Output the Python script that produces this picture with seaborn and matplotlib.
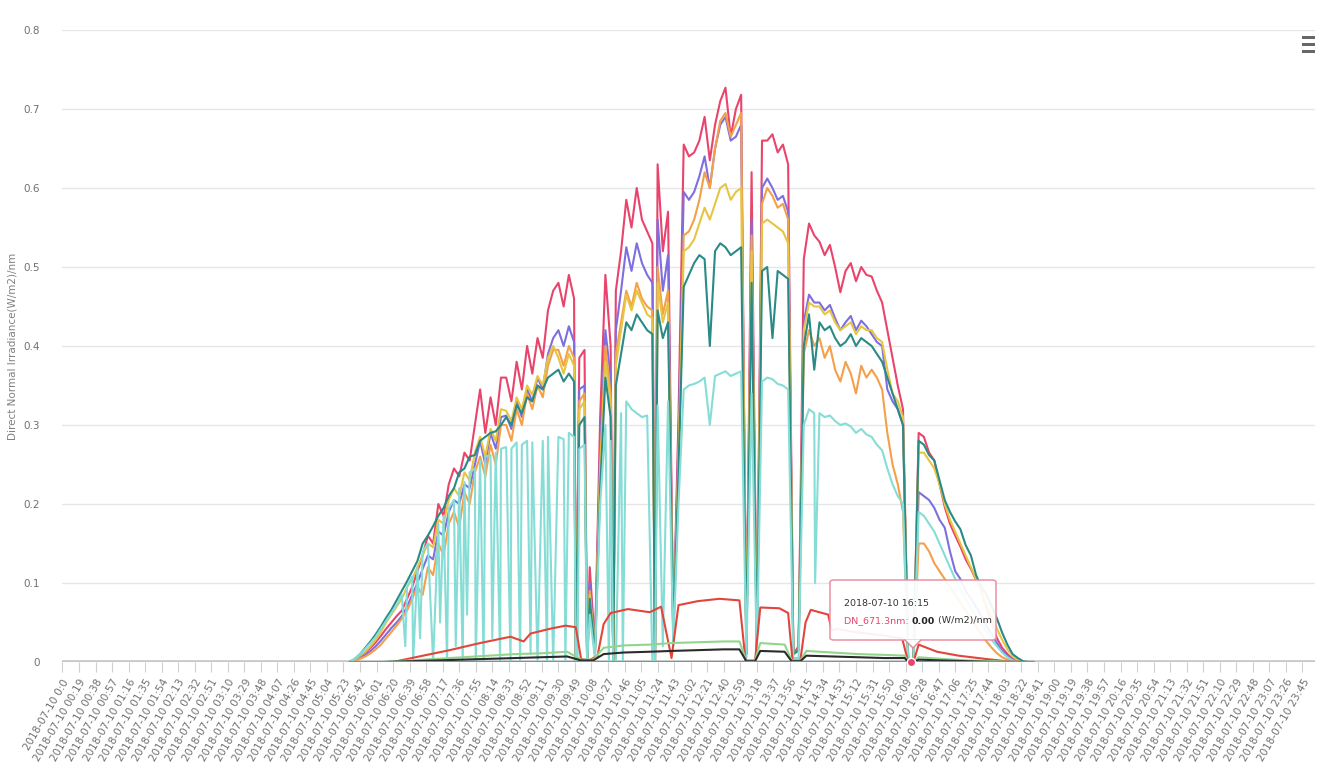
import numpy as np
import pandas as pd
import matplotlib
matplotlib.use("Agg")
import matplotlib.pyplot as plt
from matplotlib.patches import FancyBboxPatch, Polygon, Rectangle
from matplotlib.lines import Line2D
import seaborn as sns

W, H = 1338, 776

day = "2018-07-10"

# category labels shown on the x axis (one every 19 one-minute categories)
tick_times = [
    "0:0", "00:19", "00:38", "00:57", "01:16", "01:35", "01:54", "02:13", "02:32", "02:51",
    "03:10", "03:29", "03:48", "04:07", "04:26", "04:45", "05:04", "05:23", "05:42", "06:01",
    "06:20", "06:39", "06:58", "07:17", "07:36", "07:55", "08:14", "08:33", "08:52", "09:11",
    "09:30", "09:49", "10:08", "10:27", "10:46", "11:05", "11:24", "11:43", "12:02", "12:21",
    "12:40", "12:59", "13:18", "13:37", "13:56", "14:15", "14:34", "14:53", "15:12", "15:31",
    "15:50", "16:09", "16:28", "16:47", "17:06", "17:25", "17:44", "18:03", "18:22", "18:41",
    "19:00", "19:19", "19:38", "19:57", "20:16", "20:35", "20:54", "21:13", "21:32", "21:51",
    "22:10", "22:29", "22:48", "23:07", "23:26", "23:45",
]
y_ticks = [0.0, 0.1, 0.2, 0.3, 0.4, 0.5, 0.6, 0.7, 0.8]
y_tick_labels = ["0", "0.1", "0.2", "0.3", "0.4", "0.5", "0.6", "0.7", "0.8"]
y_title = "Direct Normal Irradiance(W/m2)/nm"

# daylight samples: first sample at 05:30, one sample every 6 minutes
grid_start = "05:30"
grid_step_min = 6

crimson_vals = [
    0.000, 0.003, 0.007, 0.012, 0.018, 0.025, 0.033, 0.042, 0.050, 0.058,
    0.065, 0.080, 0.095, 0.115, 0.135, 0.160, 0.150, 0.200, 0.185, 0.225,
    0.245, 0.235, 0.265, 0.255, 0.300, 0.345, 0.290, 0.335, 0.300, 0.360,
    0.360, 0.330, 0.380, 0.345, 0.400, 0.365, 0.410, 0.385, 0.445, 0.470,
    0.480, 0.450, 0.490, 0.460, 0.385, 0.395, 0.120, 0.020, 0.310, 0.490,
    0.400, 0.470, 0.520, 0.585, 0.550, 0.600, 0.560, 0.545, 0.530, 0.630,
    0.520, 0.570, 0.040, 0.310, 0.655, 0.640, 0.645, 0.660, 0.690, 0.635,
    0.680, 0.710, 0.727, 0.665, 0.700, 0.718, 0.010, 0.620, 0.020, 0.660,
    0.660, 0.668, 0.645, 0.655, 0.630, 0.010, 0.020, 0.510, 0.555, 0.540,
    0.532, 0.515, 0.528, 0.500, 0.468, 0.495, 0.505, 0.482, 0.500, 0.490,
    0.488, 0.470, 0.455, 0.420, 0.385, 0.350, 0.320, 0.000, 0.000, 0.290,
    0.285, 0.265, 0.255, 0.225, 0.196, 0.175, 0.160, 0.146, 0.130, 0.118,
    0.104, 0.090, 0.068, 0.050, 0.030, 0.018, 0.010, 0.004, 0.000, 0.000,
    0.000, 0.000,
]
violet_vals = [
    0.000, 0.002, 0.005, 0.009, 0.014, 0.020, 0.027, 0.035, 0.043, 0.050,
    0.058, 0.070, 0.085, 0.100, 0.118, 0.135, 0.130, 0.165, 0.160, 0.190,
    0.205, 0.200, 0.225, 0.220, 0.250, 0.280, 0.250, 0.290, 0.270, 0.310,
    0.312, 0.295, 0.330, 0.310, 0.345, 0.330, 0.360, 0.345, 0.390, 0.410,
    0.420, 0.400, 0.425, 0.405, 0.345, 0.350, 0.100, 0.015, 0.270, 0.420,
    0.360, 0.420, 0.470, 0.525, 0.495, 0.530, 0.505, 0.490, 0.480, 0.560,
    0.470, 0.515, 0.035, 0.280, 0.595, 0.585, 0.595, 0.615, 0.640, 0.600,
    0.650, 0.680, 0.690, 0.660, 0.665, 0.680, 0.010, 0.560, 0.015, 0.600,
    0.612, 0.600, 0.585, 0.590, 0.570, 0.010, 0.015, 0.430, 0.465, 0.455,
    0.455, 0.445, 0.452, 0.435, 0.420, 0.430, 0.438, 0.420, 0.432, 0.425,
    0.415, 0.405, 0.400, 0.345, 0.330, 0.320, 0.300, 0.000, 0.000, 0.215,
    0.210, 0.205, 0.195, 0.180, 0.170, 0.140, 0.115, 0.105, 0.090, 0.080,
    0.070, 0.058, 0.045, 0.035, 0.024, 0.014, 0.008, 0.003, 0.000, 0.000,
    0.000, 0.000,
]
orange_vals = [
    0.000, 0.001, 0.004, 0.007, 0.011, 0.016, 0.022, 0.030, 0.038, 0.046,
    0.055, 0.065, 0.080, 0.095, 0.085, 0.120, 0.110, 0.150, 0.135, 0.175,
    0.190, 0.170, 0.215, 0.200, 0.240, 0.260, 0.235, 0.275, 0.250, 0.300,
    0.300, 0.280, 0.320, 0.300, 0.340, 0.320, 0.350, 0.335, 0.375, 0.395,
    0.395, 0.375, 0.400, 0.385, 0.330, 0.340, 0.090, 0.010, 0.250, 0.400,
    0.340, 0.390, 0.430, 0.470, 0.450, 0.480, 0.460, 0.450, 0.445, 0.500,
    0.440, 0.470, 0.030, 0.260, 0.540, 0.545, 0.560, 0.585, 0.620, 0.600,
    0.650, 0.685, 0.695, 0.665, 0.680, 0.695, 0.010, 0.540, 0.015, 0.580,
    0.600, 0.590, 0.575, 0.580, 0.560, 0.010, 0.015, 0.390, 0.420, 0.400,
    0.410, 0.385, 0.400, 0.370, 0.355, 0.380, 0.365, 0.340, 0.375, 0.360,
    0.370, 0.360, 0.345, 0.290, 0.250, 0.225, 0.190, 0.000, 0.000, 0.150,
    0.150, 0.140, 0.125, 0.115, 0.105, 0.095, 0.085, 0.075, 0.065, 0.055,
    0.045, 0.035, 0.026, 0.018, 0.011, 0.006, 0.003, 0.000, 0.000, 0.000,
    0.000, 0.000,
]
gold_vals = [
    0.000, 0.003, 0.008, 0.013, 0.020, 0.028, 0.038, 0.050, 0.060, 0.070,
    0.080, 0.095, 0.105, 0.120, 0.135, 0.150, 0.145, 0.180, 0.175, 0.205,
    0.220, 0.210, 0.240, 0.230, 0.265, 0.285, 0.260, 0.295, 0.280, 0.320,
    0.318, 0.305, 0.335, 0.320, 0.350, 0.338, 0.362, 0.350, 0.385, 0.400,
    0.385, 0.365, 0.390, 0.375, 0.320, 0.330, 0.085, 0.010, 0.240, 0.380,
    0.330, 0.375, 0.420, 0.465, 0.445, 0.470, 0.455, 0.440, 0.435, 0.480,
    0.430, 0.455, 0.030, 0.250, 0.520, 0.525, 0.535, 0.555, 0.575, 0.560,
    0.580, 0.600, 0.605, 0.585, 0.595, 0.600, 0.010, 0.520, 0.015, 0.555,
    0.560, 0.555, 0.550, 0.545, 0.530, 0.010, 0.015, 0.420, 0.455, 0.450,
    0.450, 0.440, 0.445, 0.430, 0.420, 0.425, 0.430, 0.415, 0.425, 0.420,
    0.420, 0.410, 0.405, 0.370, 0.340, 0.330, 0.310, 0.000, 0.000, 0.265,
    0.265, 0.255, 0.245, 0.225, 0.200, 0.180, 0.165, 0.150, 0.135, 0.120,
    0.105, 0.090, 0.072, 0.058, 0.042, 0.028, 0.016, 0.008, 0.002, 0.000,
    0.000, 0.000,
]
teal_vals = [
    0.000, 0.004, 0.010, 0.018, 0.026, 0.035, 0.045, 0.056, 0.066, 0.078,
    0.090, 0.102, 0.115, 0.128, 0.150, 0.160, 0.172, 0.185, 0.195, 0.210,
    0.220, 0.240, 0.245, 0.260, 0.262, 0.280, 0.285, 0.290, 0.292, 0.300,
    0.310, 0.300, 0.325, 0.315, 0.335, 0.330, 0.350, 0.345, 0.360, 0.365,
    0.370, 0.355, 0.365, 0.355, 0.300, 0.310, 0.080, 0.010, 0.220, 0.360,
    0.310, 0.350, 0.390, 0.430, 0.420, 0.440, 0.430, 0.420, 0.415, 0.445,
    0.410, 0.430, 0.030, 0.240, 0.475, 0.490, 0.505, 0.515, 0.510, 0.400,
    0.520, 0.530, 0.525, 0.515, 0.520, 0.525, 0.010, 0.480, 0.015, 0.495,
    0.500, 0.410, 0.495, 0.490, 0.485, 0.010, 0.015, 0.400, 0.440, 0.370,
    0.430, 0.420, 0.425, 0.410, 0.400, 0.405, 0.415, 0.400, 0.410, 0.405,
    0.400, 0.390, 0.380, 0.360, 0.340, 0.320, 0.300, 0.000, 0.000, 0.280,
    0.275, 0.262, 0.255, 0.230, 0.205, 0.190, 0.178, 0.168, 0.148, 0.135,
    0.110, 0.095, 0.085, 0.070, 0.055, 0.037, 0.022, 0.010, 0.005, 0.001,
    0.000, 0.000,
]
aqua_vals = [
    0.000, 0.004, 0.010, 0.017, 0.024, 0.032, 0.042, 0.052, 0.062, 0.072,
    0.085, 0.095, 0.108, 0.120, 0.140, 0.150, 0.160, 0.175, 0.185, 0.195,
    0.205, 0.220, 0.228, 0.240, 0.245, 0.255, 0.260, 0.262, 0.265, 0.270,
    0.272, 0.270, 0.278, 0.275, 0.280, 0.278, 0.283, 0.280, 0.285, 0.280,
    0.285, 0.282, 0.290, 0.285, 0.270, 0.275, 0.060, 0.005, 0.200, 0.300,
    0.280, 0.300, 0.315, 0.330, 0.320, 0.315, 0.310, 0.312, 0.318, 0.325,
    0.320, 0.330, 0.020, 0.200, 0.345, 0.350, 0.352, 0.355, 0.360, 0.300,
    0.362, 0.365, 0.368, 0.362, 0.365, 0.368, 0.005, 0.340, 0.005, 0.355,
    0.360, 0.358, 0.352, 0.350, 0.345, 0.005, 0.005, 0.300, 0.320, 0.315,
    0.315, 0.310, 0.312, 0.305, 0.300, 0.302, 0.298, 0.290, 0.295, 0.288,
    0.285, 0.275, 0.268, 0.245, 0.225, 0.210, 0.200, 0.000, 0.000, 0.190,
    0.185, 0.175, 0.165, 0.150, 0.135, 0.120, 0.105, 0.092, 0.080, 0.068,
    0.058, 0.048, 0.038, 0.028, 0.020, 0.012, 0.006, 0.002, 0.000, 0.000,
    0.000, 0.000,
]

# short cloud dropouts in the six upper channels
shared_drop_times = ["09:50", "10:03", "10:33", "11:21"]
shared_drop_vals = [0.0, 0.0, 0.0, 0.0]
# extra one-minute dropouts seen only in the aqua channel
aqua_drop_times = ["06:34", "06:43", "06:51", "07:06", "07:14", "07:22", "07:32", "07:40",
                   "07:45", "07:55", "08:04", "08:14", "08:23", "08:35", "08:46", "08:58",
                   "09:06", "09:17", "09:24", "09:38", "09:52", "10:28", "10:36", "10:44",
                   "11:18", "11:30", "14:25"]
aqua_drop_vals = [0.02, 0.0, 0.03, 0.0, 0.05, 0.0, 0.02, 0.0,
                  0.06, 0.0, 0.0, 0.03, 0.0, 0.0, 0.0, 0.01,
                  0.0, 0.0, 0.0, 0.0, 0.0, 0.0, 0.0, 0.0,
                  0.0, 0.02, 0.10]

red_times = ["06:20", "06:50", "07:25", "08:00", "08:35", "08:50", "08:58", "09:20", "09:38", "09:50",
             "09:56", "10:05", "10:15", "10:22", "10:30", "10:50", "11:15", "11:28", "11:40", "11:48",
             "12:10", "12:35", "12:58", "13:05", "13:16", "13:22", "13:44", "13:54", "13:59", "14:08",
             "14:14", "14:20", "14:40", "14:44", "14:50", "15:10", "15:40", "16:05", "16:12", "16:18",
             "16:24", "16:45", "17:10", "17:40", "18:05", "18:25"]
red_vals = [0.000, 0.007, 0.015, 0.024, 0.032, 0.026, 0.036, 0.042, 0.046, 0.044,
            0.004, 0.002, 0.008, 0.048, 0.062, 0.067, 0.063, 0.070, 0.005, 0.072,
            0.077, 0.080, 0.078, 0.002, 0.002, 0.069, 0.068, 0.062, 0.002, 0.002,
            0.050, 0.066, 0.060, 0.040, 0.042, 0.038, 0.034, 0.030, 0.000, 0.000,
            0.022, 0.013, 0.008, 0.004, 0.001, 0.000]

low_times = ["06:10", "06:40", "07:10", "07:40", "08:10", "08:40", "09:10", "09:40", "09:56", "10:10",
             "10:22", "10:45", "11:15", "11:40", "12:10", "12:40", "12:58", "13:06", "13:16", "13:22",
             "13:50", "13:58", "14:08", "14:15", "14:45", "15:15", "15:45", "16:08", "16:12", "16:18",
             "16:24", "16:50", "17:20", "17:50", "18:20"]
green_vals = [0.000, 0.002, 0.004, 0.006, 0.008, 0.010, 0.011, 0.013, 0.003, 0.003,
              0.018, 0.021, 0.022, 0.024, 0.025, 0.026, 0.026, 0.002, 0.002, 0.024,
              0.022, 0.002, 0.002, 0.014, 0.012, 0.010, 0.009, 0.008, 0.000, 0.000,
              0.006, 0.004, 0.002, 0.001, 0.000]
black_vals = [0.000, 0.001, 0.002, 0.003, 0.004, 0.005, 0.006, 0.007, 0.002, 0.002,
              0.010, 0.012, 0.013, 0.014, 0.015, 0.016, 0.016, 0.001, 0.001, 0.014,
              0.013, 0.001, 0.001, 0.008, 0.007, 0.006, 0.005, 0.005, 0.000, 0.000,
              0.003, 0.002, 0.001, 0.000, 0.000]
blue_times = ["05:30", "18:36"]
blue_vals = [0.0, 0.0]

tooltip_series = "DN_671.3nm"
tooltip_time = "16:15"
tooltip_value = 0.00

series_colors = {
    "DN_671.3nm": "#e8446c",
    "DN_500.5nm": "#7e6fe0",
    "DN_612.2nm": "#f4a04a",
    "DN_551.0nm": "#e6c543",
    "DN_778.4nm": "#2a8a85",
    "DN_938.7nm": "#86ddd6",
    "DN_412.0nm": "#e2453c",
    "DN_368.5nm": "#92d58c",
    "DN_340.1nm": "#2b2b2b",
    "DN_305.2nm": "#5b9bd5",
}


def to_min(hhmm):
    h, m = hhmm.split(":")
    return int(h) * 60 + int(m)


grid_min = to_min(grid_start) + grid_step_min * np.arange(len(crimson_vals))


def build(vals, times=None, drop_times=(), drop_vals=()):
    idx = grid_min if times is None else [to_min(t) for t in times]
    s = pd.Series(np.asarray(vals, dtype=float), index=idx)
    for t, v in zip(drop_times, drop_vals):
        s.loc[to_min(t)] = v
    return s.sort_index()


shared = dict(drop_times=shared_drop_times, drop_vals=shared_drop_vals)
series = {
    "DN_671.3nm": build(crimson_vals, **shared),
    "DN_500.5nm": build(violet_vals, **shared),
    "DN_612.2nm": build(orange_vals, **shared),
    "DN_551.0nm": build(gold_vals, **shared),
    "DN_778.4nm": build(teal_vals, **shared),
    "DN_938.7nm": build(aqua_vals,
                        drop_times=shared_drop_times + aqua_drop_times,
                        drop_vals=shared_drop_vals + aqua_drop_vals),
    "DN_412.0nm": build(red_vals, red_times),
    "DN_368.5nm": build(green_vals, low_times),
    "DN_340.1nm": build(black_vals, low_times),
    "DN_305.2nm": build(blue_vals, blue_times),
}

frames = []
for name, s in series.items():
    frames.append(pd.DataFrame({"minute": s.index, "value": s.values, "series": name}))
df = pd.concat(frames, ignore_index=True)

sns.set_theme(style="white")
plt.rcParams["font.family"] = ["DejaVu Sans"]

fig = plt.figure(figsize=(W / 100, H / 100), dpi=100)
ax = fig.add_axes([62 / W, 1 - 662 / H, (1315 - 62) / W, (662 - 30) / H])

# horizontal grid and base axis line
for v in y_ticks[1:]:
    ax.axhline(v, color="#e6e6e6", lw=1.0, zorder=0)
ax.axhline(0, color="#c6c6c6", lw=2.6, zorder=1)

sns.lineplot(data=df, x="minute", y="value", hue="series",
             hue_order=list(series_colors), palette=series_colors,
             estimator=None, legend=False, linewidth=1.5, ax=ax, zorder=3)

ax.set_xlim(-0.5, 1439.5)
ax.set_ylim(0, 0.8)
for sp in ax.spines.values():
    sp.set_visible(False)

tick_pos = [to_min(t) for t in tick_times]
ax.set_xticks(tick_pos)
ax.set_xticklabels([f"{day} {t}" for t in tick_times], rotation=60,
                   ha="right", va="top", rotation_mode="anchor",
                   fontsize=7.5, color="#707070")
ax.tick_params(axis="x", bottom=True, length=7, width=0.8, color="#d0d0d0", pad=4)

ax.set_yticks(y_ticks)
ax.set_yticklabels(y_tick_labels, fontsize=7.5, color="#707070")
ax.tick_params(axis="y", left=False, pad=10)
ax.set_xlabel("")
ax.set_ylabel("")


def fx(x):
    return x / W


def fy(y):
    return 1 - y / H


fig.text(fx(13), fy(346), y_title, rotation=90, ha="center", va="center",
         fontsize=7.5, color="#808080")

# hovered point
tip_color = series_colors[tooltip_series]
ax.scatter([to_min(tooltip_time)], [tooltip_value], s=36, color=tip_color,
           edgecolor="white", linewidth=1.0, zorder=8, clip_on=False)

# tooltip box
box = FancyBboxPatch((fx(830), fy(640)), fx(996) - fx(830), fy(580) - fy(640),
                     boxstyle="round,pad=0,rounding_size=0.003",
                     transform=fig.transFigure, fc="white", ec="#e8889e",
                     lw=1.1, alpha=0.93, zorder=20)
fig.add_artist(box)
tip = Polygon([(fx(905), fy(639.5)), (fx(921), fy(639.5)), (fx(913), fy(648))],
              closed=True, transform=fig.transFigure, fc="white", ec="none", zorder=21)
fig.add_artist(tip)
for (xa, ya), (xb, yb) in [((905, 640), (913, 648)), ((921, 640), (913, 648))]:
    fig.add_artist(Line2D([fx(xa), fx(xb)], [fy(ya), fy(yb)], transform=fig.transFigure,
                          color="#e8889e", lw=1.1, zorder=22))

fig.text(fx(844), fy(603), f"{day} {tooltip_time}", fontsize=6.8, color="#333333",
         va="center", ha="left", zorder=23)
fig.canvas.draw()
renderer = fig.canvas.get_renderer()
x_cursor = fx(844)
for txt, col, wt in [(f"{tooltip_series}: ", tip_color, "normal"),
                     (f"{tooltip_value:.2f}", "#222222", "bold"),
                     (" (W/m2)/nm", "#333333", "normal")]:
    t = fig.text(x_cursor, fy(621), txt, fontsize=6.8, color=col, fontweight=wt,
                 va="center", ha="left", zorder=23)
    bb = t.get_window_extent(renderer=renderer)
    x_cursor += bb.width / fig.bbox.width

# menu icon
for yb in (36, 43, 50):
    fig.add_artist(Rectangle((fx(1302), fy(yb + 3)), fx(13), 3 / H,
                             transform=fig.transFigure, fc="#666666", ec="none"))

fig.savefig("out.png", dpi=100, facecolor="white")
